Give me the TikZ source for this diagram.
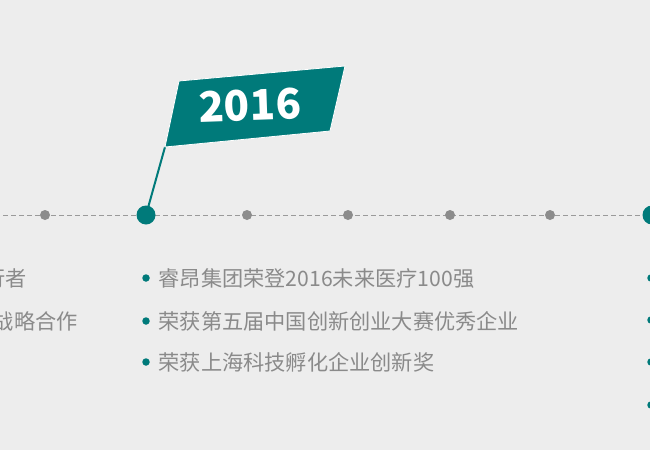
\documentclass[tikz,border=0pt]{standalone}
\usepackage{fontspec}
\newfontfamily\cjk{Noto Sans CJK SC}
\usetikzlibrary{positioning}
\definecolor{paper}{HTML}{EDEDED}
\definecolor{flagteal}{HTML}{007A7A}
\definecolor{dotgray}{HTML}{8C8C8C}
\definecolor{linegray}{HTML}{9A9A9A}
\definecolor{textgray}{HTML}{8A8A8A}
\tikzset{
  minordot/.style={circle,fill=dotgray,inner sep=0pt,minimum size=10pt},
  majordot/.style={circle,fill=flagteal,inner sep=0pt,minimum size=19pt},
  bulletdot/.style={circle,fill=flagteal,inner sep=0pt,minimum size=7.5pt},
  itemtext/.style={inner sep=0pt,text=textgray,font=\cjk\fontsize{21.2}{21.2}\selectfont},
  timeline/.style={draw=linegray,line width=1pt,dash pattern=on 5pt off 3pt},
  flagcloth/.style={fill=flagteal,draw=white,line width=0.8pt},
  flagpole/.style={draw=flagteal,line width=2pt}
}

\begin{document}
\begin{tikzpicture}[x=1pt,y=-1pt]
  \fill[paper] (0,0) rectangle (650,450);
  \clip (0,0) rectangle (650,450);

  % timeline
  \coordinate (lineL) at (-5,215);
  \coordinate (lineR) at (660,215);
  \draw[timeline] (lineL) -- (lineR);
  \node[minordot] (m1) at (45,215) {};
  \node[minordot] (m2) at (247,215) {};
  \node[minordot] (m3) at (348,215) {};
  \node[minordot] (m4) at (450,215) {};
  \node[minordot] (m5) at (550,215) {};
  \node[majordot] (y2016) at (146,215) {};
  \node[majordot] (ynext) at (652,215) {};

  % flag
  \coordinate (poletop) at (165,147);
  \draw[flagpole] (y2016.center) -- (poletop);
  \draw[flagcloth] (poletop) -- (179,81) -- (345,66) -- (330,131) -- cycle;
  \node[text=white,font=\cjk\bfseries\fontsize{42}{42}\selectfont,rotate=2]
    (year) at (250,105) {2016};

  % previous column (cut off)
  \node[itemtext,anchor=east] (p1) at (27,278) {行者};
  \node[itemtext,anchor=east] (p2) at (78,321) {战略合作};

  % 2016 items
  \node[bulletdot] (b1) at (146,278) {};
  \node[bulletdot] (b2) at (146,321) {};
  \node[bulletdot] (b3) at (146,362) {};
  \node[itemtext,right=8.5pt of b1] (t1) {睿昂集团荣登2016未来医疗100强};
  \node[itemtext,right=8.5pt of b2] (t2) {荣获第五届中国创新创业大赛优秀企业};
  \node[itemtext,right=8.5pt of b3] (t3) {荣获上海科技孵化企业创新奖};

  % next column (cut off)
  \node[bulletdot] (n1) at (651,278) {};
  \node[bulletdot] (n2) at (651,320) {};
  \node[bulletdot] (n3) at (651,362) {};
  \node[bulletdot] (n4) at (651,405) {};
\end{tikzpicture}
\end{document}
